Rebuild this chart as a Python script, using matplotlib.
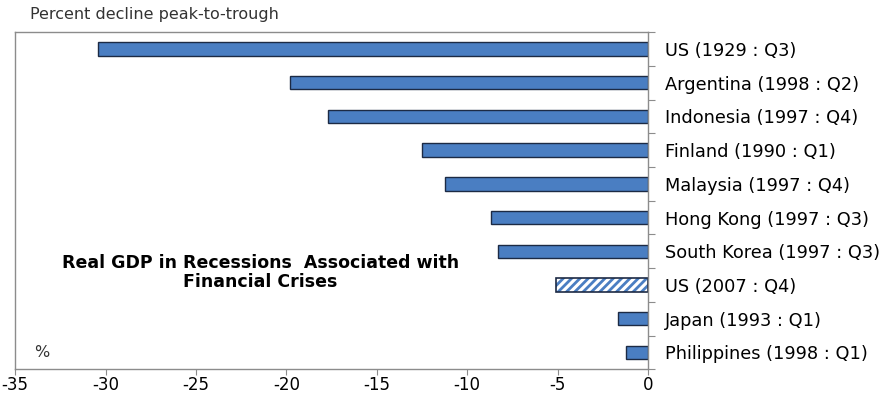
import numpy as np
import matplotlib.pyplot as plt

labels = ['US (1929 : Q3)', 'Argentina (1998 : Q2)', 'Indonesia (1997 : Q4)',
          'Finland (1990 : Q1)', 'Malaysia (1997 : Q4)', 'Hong Kong (1997 : Q3)',
          'South Korea (1997 : Q3)', 'US (2007 : Q4)', 'Japan (1993 : Q1)',
          'Philippines (1998 : Q1)']
decline = [-30.4, -19.8, -17.7, -12.5, -11.2, -8.7, -8.3, -5.1, -1.65, -1.2]
x_ticks = [-35, -30, -25, -20, -15, -10, -5, 0]

plt.rcParams['font.family'] = ['DejaVu Sans']
plt.rcParams['hatch.linewidth'] = 2.0

blue = '#4a7ec2'
edge = '#1c2a44'
grey = '#8c8c8c'

fig = plt.figure(figsize=(8.95, 3.97), dpi=100)
ax = fig.add_axes([0.017, 0.07, 0.707, 0.849])

y = np.arange(len(labels))
hl = labels.index('US (2007 : Q4)')
for i, v in enumerate(decline):
    if i == hl:
        ax.barh(i, v, height=0.4, color='white', edgecolor=blue, hatch='////', linewidth=0)
        ax.barh(i, v, height=0.4, fill=False, edgecolor=edge, linewidth=1.2)
    else:
        ax.barh(i, v, height=0.4, color=blue, edgecolor=edge, linewidth=1.0)

ax.set_xlim(-35, 0)
ax.set_ylim(len(labels) - 0.5, -0.5)
ax.set_xticks(x_ticks)
ax.set_xticklabels([str(t) for t in x_ticks], fontsize=12)
ax.tick_params(axis='x', direction='out', length=4, color=grey, pad=1)

ax.yaxis.tick_right()
ax.set_yticks(np.arange(len(labels) + 1) - 0.5)
ax.set_yticklabels([])
ax.set_yticks(y, minor=True)
ax.set_yticklabels(labels, minor=True, fontsize=12.8)
ax.tick_params(axis='y', which='major', direction='out', length=5, color=grey)
ax.tick_params(axis='y', which='minor', length=0, pad=12)

for s in ax.spines.values():
    s.set_color(grey)
    s.set_linewidth(1.0)

fig.text(0.034, 0.963, 'Percent decline peak-to-trough', fontsize=11.5,
         color='#333333', va='center')
ax.text(0.03, 0.05, '%', transform=ax.transAxes, fontsize=11.5, color='#333333',
        va='center')
ax.text(0.387, 0.287, 'Real GDP in Recessions  Associated with\nFinancial Crises',
        transform=ax.transAxes, fontsize=12.5, fontweight='bold', ha='center',
        va='center', linespacing=1.1)

fig.savefig('out.png', dpi=100)
